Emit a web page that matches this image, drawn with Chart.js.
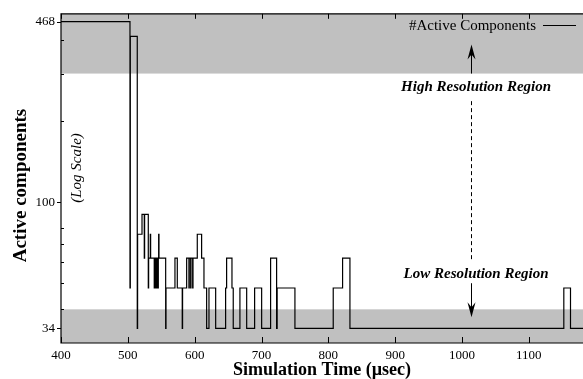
<!DOCTYPE html>
<html><head><meta charset="utf-8">
<script src="https://cdn.jsdelivr.net/npm/chart.js@4/dist/chart.umd.min.js"></script>
<style>html,body{margin:0;padding:0;background:#fff;overflow:hidden}canvas{display:block}</style>
</head><body>
<canvas id="c" width="583" height="379"></canvas>
<script>
// Simulation time (usec) at which the active-component count changes
const times = [400, 503.2, 503.7, 514.1, 514.6, 521.2, 524.6, 525.1, 530.6, 531.1, 533.6, 534.1,
  539.5, 540.0, 541.6, 542.1, 543.6, 544.1, 545.1, 545.6, 546.1, 546.6, 556.6, 557.1, 570.5, 574.0,
  581.4, 581.9, 588.0, 591.4, 591.9, 594.0, 594.5, 597.0, 597.5, 603.9, 610.4, 613.9, 617.9, 621.4,
  631.4, 646.3, 647.8, 655.8, 657.7, 667.7, 677.8, 689.7, 700.2, 713.6, 722.6, 723.4, 750.0, 807.3,
  821.3, 832.3, 1152.3, 1162.3, 1181];
// Number of active components from that time on
const counts = [468, 48, 412, 34, 76, 90, 62, 90, 48, 62, 76, 62,
  48, 62, 48, 62, 48, 62, 48, 62, 76, 62, 34, 48, 62, 48,
  34, 48, 62, 48, 62, 48, 62, 48, 62, 76, 62, 48, 34, 48,
  34, 48, 62, 48, 34, 48, 34, 48, 34, 62, 34, 48, 34, 48,
  62, 34, 48, 34, 34];
const xTicks = [400, 500, 600, 700, 800, 900, 1000, 1100];
const yMajorTicks = [34, 100, 468];
const yMinorTicks = [40, 50, 60, 70, 80, 200, 300, 400];
const highRegion = [300, 500];
const lowRegion = [30, 40];
const seriesLabel = '#Active Components';

const SERIF = "'Liberation Serif', 'Times New Roman', serif";

const decor = {
  id: 'decor',
  beforeDatasetsDraw(chart) {
    const {ctx, chartArea: a, scales: {y}} = chart;
    ctx.save();
    ctx.fillStyle = '#c0c0c0';
    for (const [lo, hi] of [highRegion, lowRegion]) {
      const y1 = y.getPixelForValue(hi), y2 = y.getPixelForValue(lo);
      ctx.fillRect(a.left, y1, a.right - a.left, y2 - y1);
    }
    ctx.restore();
  },
  afterDatasetsDraw(chart) {
    const {ctx, chartArea: a, scales: {x, y}} = chart;
    ctx.save();
    ctx.strokeStyle = '#000';
    ctx.lineWidth = 1.2;
    // frame: top, left, bottom
    ctx.beginPath();
    ctx.moveTo(a.right, a.top); ctx.lineTo(a.left, a.top);
    ctx.lineTo(a.left, a.bottom); ctx.lineTo(a.right, a.bottom);
    ctx.stroke();
    // x ticks (inward, bottom and top)
    ctx.lineWidth = 1;
    ctx.beginPath();
    for (const v of xTicks) {
      const px = Math.round(x.getPixelForValue(v)) + 0.5;
      ctx.moveTo(px, a.bottom); ctx.lineTo(px, a.bottom - 6);
      ctx.moveTo(px, a.top); ctx.lineTo(px, a.top + 5);
    }
    for (const v of yMajorTicks) {
      const py = Math.round(y.getPixelForValue(v)) + 0.5;
      ctx.moveTo(a.left - 4, py); ctx.lineTo(a.left, py);
    }
    for (const v of yMinorTicks) {
      const py = Math.round(y.getPixelForValue(v)) + 0.5;
      ctx.moveTo(a.left, py); ctx.lineTo(a.left + 3, py);
    }
    ctx.stroke();

    // legend
    ctx.fillStyle = '#000';
    ctx.font = '15px ' + SERIF;
    ctx.textAlign = 'right';
    ctx.textBaseline = 'middle';
    ctx.fillText(seriesLabel, 536, 26);
    ctx.lineWidth = 1.2;
    ctx.beginPath(); ctx.moveTo(543, 25.5); ctx.lineTo(576, 25.5); ctx.stroke();

    // (Log Scale)
    ctx.save();
    ctx.translate(77, 168);
    ctx.rotate(-Math.PI / 2);
    ctx.font = 'italic 15px ' + SERIF;
    ctx.textAlign = 'center';
    ctx.fillText('(Log Scale)', 0, 0);
    ctx.restore();

    // region annotations
    const ax = Math.round(x.getPixelForValue(1014)) + 0.5;
    const tx = x.getPixelForValue(1021);
    ctx.font = 'bold italic 15px ' + SERIF;
    ctx.textAlign = 'center';
    ctx.fillText('High Resolution Region', tx, y.getPixelForValue(267));
    ctx.fillText('Low Resolution Region', tx, y.getPixelForValue(54.2));

    const arrow = (fromV, toV) => {
      const y0 = y.getPixelForValue(fromV), y1 = y.getPixelForValue(toV);
      const dir = Math.sign(y1 - y0);
      ctx.beginPath(); ctx.moveTo(ax, y0); ctx.lineTo(ax, y1 - dir * 8); ctx.stroke();
      ctx.beginPath();
      ctx.moveTo(ax, y1);
      ctx.lineTo(ax - 4, y1 - dir * 15);
      ctx.lineTo(ax, y1 - dir * 10);
      ctx.lineTo(ax + 4, y1 - dir * 15);
      ctx.closePath(); ctx.fill();
    };
    ctx.lineWidth = 1;
    arrow(300, 385);
    arrow(50, 37.4);
    ctx.setLineDash([4, 3]);
    ctx.beginPath();
    ctx.moveTo(ax, y.getPixelForValue(237));
    ctx.lineTo(ax, y.getPixelForValue(60));
    ctx.stroke();
    ctx.restore();
  }
};

new Chart(document.getElementById('c'), {
  type: 'line',
  data: {
    datasets: [{
      label: seriesLabel,
      data: times.map((t, i) => ({x: t, y: counts[i]})),
      stepped: true,
      borderColor: '#000',
      borderWidth: 1.2,
      pointRadius: 0,
      fill: false
    }]
  },
  options: {
    responsive: false,
    animation: false,
    layout: {padding: {top: 13, right: 0, left: 0, bottom: 0}},
    plugins: {legend: {display: false}, tooltip: {enabled: false}},
    scales: {
      x: {
        type: 'linear', min: 400, max: 1181,
        afterBuildTicks: s => { s.ticks = xTicks.map(v => ({value: v})); },
        afterFit: s => { s.height = 36; },
        grid: {display: false, drawTicks: false},
        border: {display: false},
        ticks: {font: {family: SERIF, size: 13}, color: '#000', padding: 5, maxRotation: 0, autoSkip: false,
          callback: v => String(v)},
        title: {display: true, text: 'Simulation Time (µsec)', color: '#000',
          font: {family: SERIF, size: 18, weight: 'bold', lineHeight: 1}, padding: {top: 0, bottom: 0}}
      },
      y: {
        type: 'logarithmic', min: 30, max: 500,
        afterBuildTicks: s => { s.ticks = yMajorTicks.map(v => ({value: v})); },
        afterFit: s => { s.width = 61; },
        grid: {display: false, drawTicks: false},
        border: {display: false},
        ticks: {font: {family: SERIF, size: 13}, color: '#000', padding: 6, callback: v => String(v)},
        title: {display: true, text: 'Active components   ', color: '#000',
          font: {family: SERIF, size: 19, weight: 'bold', lineHeight: 1}, padding: {top: 12, bottom: 0}}
      }
    }
  },
  plugins: [decor]
});
</script>
</body></html>
